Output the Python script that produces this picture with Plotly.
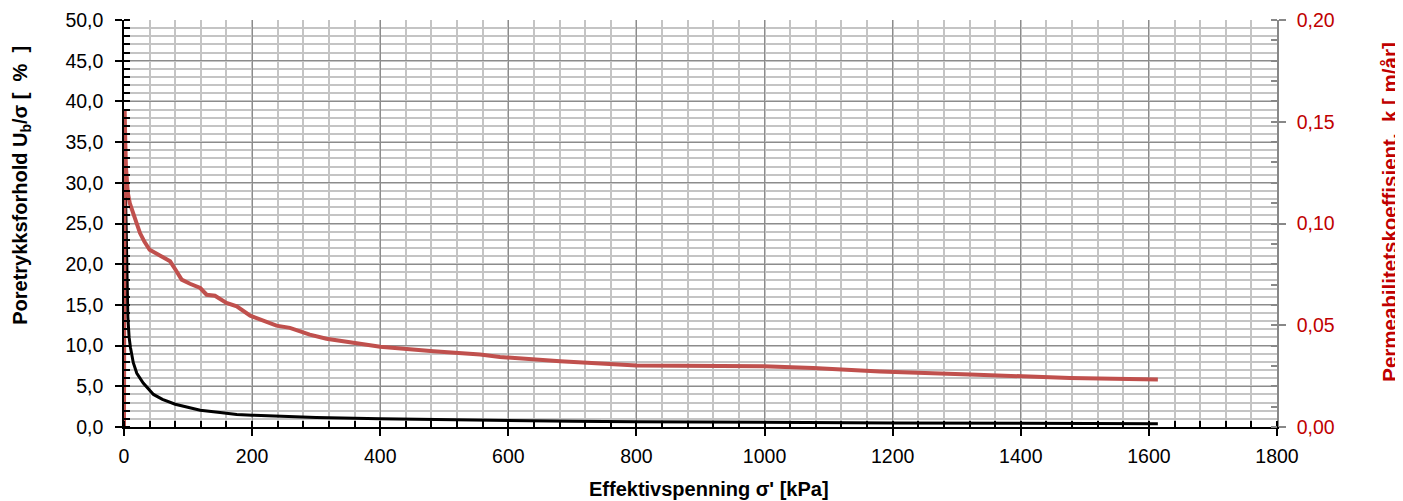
import plotly.graph_objects as go

# Effective stress [kPa] and pore pressure ratio Ub/sigma [%]
stress_ub = [2, 3, 4, 5, 6, 8, 10, 14.5, 20, 30, 46, 60, 72, 80, 93, 119, 150, 176, 200,
             250, 300, 400, 500, 600, 700, 800, 900, 1000, 1200, 1400, 1614]
ub_ratio = [30, 25, 20, 16, 13.5, 11, 9.8, 7.9, 6.6, 5.4, 4.0, 3.4, 3.0, 2.8, 2.55, 2.07, 1.78,
            1.55, 1.45, 1.3, 1.18, 1.0, 0.88, 0.78, 0.7, 0.65, 0.6, 0.56, 0.5, 0.45, 0.4]

# Effective stress [kPa] and permeability k [m/år]
stress_k = [0, 1, 2, 3, 4, 6, 9, 14.6, 20, 25, 32, 40, 56, 72, 80, 90, 103, 113, 119, 129,
            142, 160, 176, 197, 218, 238, 259, 290, 316, 358, 400, 483, 556, 587, 681, 800,
            900, 998, 1076, 1180, 1321, 1399, 1477, 1614]
perm_k = [0.0, 0.156, 0.14, 0.128, 0.12, 0.115, 0.11, 0.105, 0.099, 0.0953, 0.091, 0.0871,
          0.0843, 0.0814, 0.0775, 0.0724, 0.0704, 0.0691, 0.0683, 0.065, 0.0645, 0.061,
          0.0593, 0.0547, 0.052, 0.0498, 0.0487, 0.0454, 0.0434, 0.0416, 0.0394, 0.0372,
          0.0356, 0.0344, 0.0323, 0.0302, 0.0299, 0.0298, 0.029, 0.0273, 0.0258, 0.0249,
          0.0241, 0.0233]

FONT = "Liberation Sans, Arial, sans-serif"
RED_TXT = "#C00000"

# page has an 8px body margin; plot area: abs x 124..1277, abs y 20..427.5
PL, PT, PW, PH = 124, 20, 1153, 407.5


def px(xa):
    return (xa - PL) / PW


def py(ya):
    return (PT + PH - ya) / PH


fig = go.Figure()
fig.add_trace(go.Scatter(x=stress_ub, y=ub_ratio, mode="lines",
                         line=dict(color="black", width=3), yaxis="y", showlegend=False))
fig.add_trace(go.Scatter(x=stress_k, y=perm_k, mode="lines",
                         line=dict(color="#C0504D", width=4), yaxis="y2", showlegend=False))

fig.update_layout(
    width=1395, height=493,
    margin=dict(l=116, r=126, t=12, b=73.5, autoexpand=False),
    paper_bgcolor="white", plot_bgcolor="white",
    separators=", ",
    font=dict(family=FONT, size=19.5, color="black"),
    xaxis=dict(range=[0, 1800], dtick=200, tickformat="d", showline=True, linecolor="black",
               linewidth=2, ticks="outside", ticklen=7, tickcolor="black", tickwidth=1.5,
               showgrid=True, gridcolor="#8C8C8C", gridwidth=1, zeroline=False,
               automargin=False, ticklabelstandoff=4,
               minor=dict(dtick=40, showgrid=True, gridcolor="#C4C4C4", gridwidth=1.5,
                          ticks="inside", ticklen=6, tickcolor="black", tickwidth=1.5)),
    yaxis=dict(range=[0, 50], dtick=5, tickformat=".1f", showline=True, linecolor="black",
               linewidth=1.5, ticks="outside", ticklen=7, tickcolor="black", tickwidth=1.5,
               showgrid=True, gridcolor="#8C8C8C", gridwidth=1, zeroline=False,
               automargin=False, ticklabelstandoff=8,
               minor=dict(dtick=1, showgrid=True, gridcolor="#C4C4C4", gridwidth=1.5,
                          ticks="inside", ticklen=6, tickcolor="black", tickwidth=1.5)),
    yaxis2=dict(range=[0, 0.2], dtick=0.05, tickformat=".2f", overlaying="y", side="right",
                showline=True, linecolor="#888888", linewidth=1.5, ticks="outside",
                ticklen=7, tickcolor="#888888", tickwidth=1.5, showgrid=False, zeroline=False,
                automargin=False, ticklabelstandoff=7, tickfont=dict(color=RED_TXT),
                minor=dict(dtick=0.01, ticks="inside", ticklen=6, tickcolor="#888888",
                           tickwidth=1.5, showgrid=False)),
)

fig.add_annotation(text="<b>Effektivspenning σ' [kPa]</b>", xref="paper", yref="paper",
                   x=px(709), y=py(490), showarrow=False,
                   font=dict(size=20, color="black"), xanchor="center", yanchor="middle")
fig.add_annotation(text="<b>Poretrykksforhold U<sub>b</sub>/σ [&nbsp;&nbsp;%&nbsp;&nbsp;]</b>",
                   xref="paper", yref="paper", x=px(22), y=py(186),
                   showarrow=False, textangle=-90, font=dict(size=20, color="black"),
                   xanchor="center", yanchor="middle")
fig.add_annotation(text="<b>Permeabilitetskoeffisient,&nbsp;&nbsp;k [ m/år]</b>",
                   xref="paper", yref="paper", x=px(1390), y=py(212),
                   showarrow=False, textangle=-90, font=dict(size=20.5, color=RED_TXT),
                   xanchor="center", yanchor="middle")

fig.write_html("out.html")
